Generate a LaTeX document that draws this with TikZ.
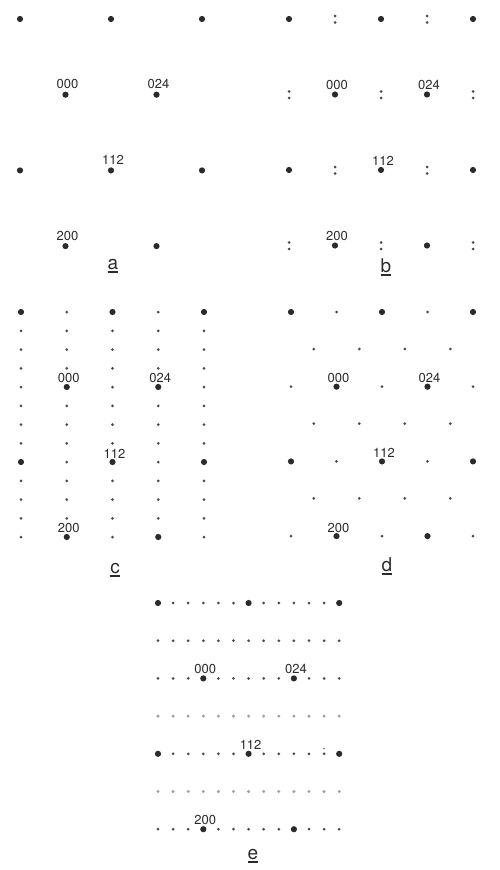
\documentclass[tikz,border=0pt]{standalone}
\usepackage{fontspec}
\setmainfont{TeX Gyre Heros}
\usetikzlibrary{positioning}
\definecolor{spot}{HTML}{2B2B2B}
\newcommand\ulbox[1]{\setbox0\hbox{#1}\vtop{\copy0\kern2pt\hrule width\wd0 height1.4pt}}

\begin{document}
\begin{tikzpicture}[x=1pt, y=-1pt,
    big/.style={circle, fill=spot, inner sep=0pt, minimum size=6.2pt},
    small/.style={circle, fill=spot!85, inner sep=0pt, minimum size=3pt},
    faint/.style={circle, fill=spot!45, inner sep=0pt, minimum size=3.3pt},
    hkl/.style={font=\fontsize{13}{13}\selectfont, text=spot, inner sep=0pt, xshift=2pt},
    tag/.style={font=\fontsize{19}{19}\selectfont, text=spot, inner sep=0pt, anchor=base}]
  \useasboundingbox (0,0) rectangle (499,870);
  % Pattern a
  \foreach \r in {0,...,3}
    \foreach \c in {0,...,4} {
      \pgfmathtruncatemacro\m{mod(\r+\c,2)}
      \ifnum\m=0
        \node[big] (a\r-\c) at (20+45.5*\c, 19+75.7*\r) {};
      \fi
    }
  \node[hkl, above=2.5pt of a1-1] (ha000) {000};
  \node[hkl, above=2.5pt of a1-3] (ha024) {024};
  \node[hkl, above=2.5pt of a2-2] (ha112) {112};
  \node[hkl, above=2pt of a3-1] (ha200) {200};
  \node[tag] (ta) at (113,269) {\ulbox{a}};
  % Pattern b
  \foreach \r in {0,...,3}
    \foreach \c in {0,...,4} {
      \pgfmathtruncatemacro\m{mod(\r+\c,2)}
      \ifnum\m=0
        \node[big] (b\r-\c) at (289+46*\c, 19+75.5*\r) {};
      \else
        \node[small] (b\r-\c-u) at (289+46*\c, 16+75.5*\r) {};
        \node[small] (b\r-\c-d) at (289+46*\c, 22.5+75.5*\r) {};
      \fi
    }
  \node[hkl, above=1.5pt of b1-1] (hb000) {000};
  \node[hkl, above=1.5pt of b1-3] (hb024) {024};
  \node[hkl, above=1.5pt of b2-2] (hb112) {112};
  \node[hkl, above=1pt of b3-1] (hb200) {200};
  \node[tag] (tb) at (386,272) {\ulbox{b}};
  % Pattern c
  \foreach \r in {0,...,12}
    \foreach \c in {0,...,4} {
      \pgfmathtruncatemacro\m{mod(\r,4)+mod(int(\r/4)+\c,2)}
      \ifnum\m=0
        \node[big] (c\r-\c) at (21+45.75*\c, 312+18.75*\r) {};
      \else
        \node[small] (c\r-\c) at (21+45.75*\c, 312+18.75*\r) {};
      \fi
    }
  \node[hkl, above=0.5pt of c4-1] (hc000) {000};
  \node[hkl, above=0.5pt of c4-3] (hc024) {024};
  \node[hkl, above=0.5pt of c8-2] (hc112) {112};
  \node[hkl, above=0.5pt of c12-1] (hc200) {200};
  \node[tag] (tc) at (115,573) {\ulbox{c}};
  % Pattern d
  \foreach \r in {0,...,3}
    \foreach \c in {0,...,4} {
      \pgfmathtruncatemacro\m{mod(\r+\c,2)}
      \ifnum\m=0
        \node[big] (d\r-\c) at (291+45.5*\c, 312+74.7*\r) {};
      \else
        \node[small] (d\r-\c) at (291+45.5*\c, 312+74.7*\r) {};
      \fi
    }
  \foreach \r in {0,...,2}
    \foreach \c in {0,...,3}
      \node[small] (dh\r-\c) at (291+45.5*\c+22.75, 349+74.7*\r) {};
  \node[hkl, above=0.5pt of d1-1] (hd000) {000};
  \node[hkl, above=0.5pt of d1-3] (hd024) {024};
  \node[hkl, above=0.5pt of d2-2] (hd112) {112};
  \node[hkl, above=-0.5pt of d3-1] (hd200) {200};
  \node[tag] (td) at (387,571) {\ulbox{d}};
  % Pattern e
  \foreach \r in {0,...,6}
    \foreach \c in {0,...,12} {
      \pgfmathtruncatemacro\m{10*mod(\r,2)+mod(\c,3)+mod(int(\r/2)+int(\c/3),2)}
      \ifnum\m=0
        \node[big] (e\r-\c) at (158+15.1*\c, 603+37.7*\r) {};
      \else
        \ifnum\r=3 \node[faint] (e\r-\c) at (158+15.1*\c, 603+37.7*\r) {};
        \else\ifnum\r=5 \node[faint] (e\r-\c) at (158+15.1*\c, 603+37.7*\r) {};
        \else \node[small] (e\r-\c) at (158+15.1*\c, 603+37.7*\r) {};
        \fi\fi
      \fi
    }
  \node[circle, fill=spot!70, inner sep=0pt, minimum size=1.8pt, above=2.5pt of e4-11] (especk) {};
  \node[hkl, above=1pt of e2-3] (he000) {000};
  \node[hkl, above=1pt of e2-9] (he024) {024};
  \node[hkl, above=1pt of e4-6] (he112) {112};
  \node[hkl, above=1pt of e6-3] (he200) {200};
  \node[tag] (te) at (253,859) {\ulbox{e}};
\end{tikzpicture}
\end{document}
